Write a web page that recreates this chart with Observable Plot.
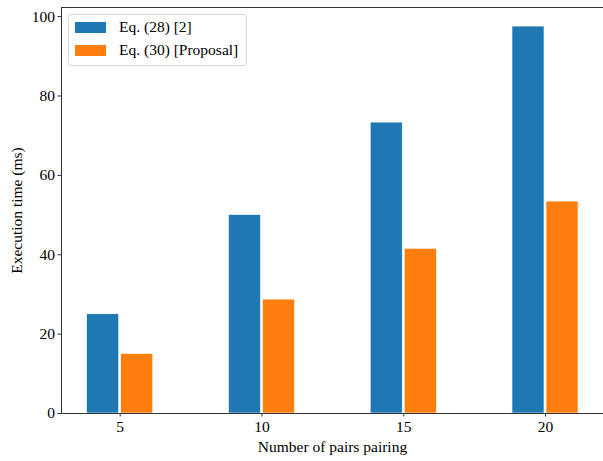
<!DOCTYPE html>
<html>
<head>
<meta charset="utf-8">
<script src="https://cdn.jsdelivr.net/npm/d3@7"></script>
<script src="https://cdn.jsdelivr.net/npm/@observablehq/plot@0.6"></script>
<style>
  html, body { margin: 0; padding: 0; background: #fff; overflow: hidden; }
  #wrap { position: relative; width: 603px; height: 461px; overflow: hidden; font-family: "Liberation Serif", "Times New Roman", serif; }
  #wrap svg { display: block; max-width: none; }
  #wrap svg text { font-family: "Liberation Serif", "Times New Roman", serif; }
  #legend { position: absolute; left: 68px; top: 14px; width: 179px; height: 52px; border: 1px solid #d9d9d9; border-radius: 3px; background: rgba(255,255,255,0.8); box-sizing: border-box; }
  .item { position: absolute; left: 6px; height: 16px; display: flex; align-items: center; font-size: 15.5px; line-height: 16px; color: #000; white-space: nowrap; }
  .sw { width: 31px; height: 11px; margin-right: 13px; flex: none; }
</style>
</head>
<body>
<div id="wrap"></div>
<script>
const pairs = [5, 10, 15, 20];
const series = ["Eq. (28) [2]", "Eq. (30) [Proposal]"];
const eq28 = [25.0, 50.0, 73.3, 97.5];
const eq30 = [15.0, 28.7, 41.5, 53.4];
const colors = ["#1f77b4", "#ff7f0e"];
const yTicks = [0, 20, 40, 60, 80, 100];
const barWidth = 1.2;

const rows = [];
pairs.forEach((p, i) => {
  rows.push({pairs: p, series: series[0], value: eq28[i], x1: p - barWidth, x2: p});
  rows.push({pairs: p, series: series[1], value: eq30[i], x1: p, x2: p + barWidth});
});

const xDomain = [2.93, 23.35];
const xEnd = 22.07; // right spine, just outside the picture
const yDomain = [0, 102.3];
const spine = "#333";

const chart = Plot.plot({
  width: 640,
  height: 461,
  marginLeft: 61,
  marginRight: 0,
  marginTop: 7,
  marginBottom: 48,
  style: {fontFamily: "'Liberation Serif', 'Times New Roman', serif", fontSize: "15.5px", color: "#000", background: "#fff"},
  x: {domain: xDomain},
  y: {domain: yDomain},
  color: {domain: series, range: colors},
  marks: [
    Plot.rect(rows, {x1: "x1", x2: "x2", y1: 0, y2: "value", fill: "series", insetLeft: 1, insetRight: 1, stroke: "#fff", strokeWidth: 0.6}),
    Plot.ruleX([xDomain[0]], {stroke: spine, strokeWidth: 1}),
    Plot.ruleY([yDomain[0]], {x1: xDomain[0], x2: xEnd, stroke: spine, strokeWidth: 1}),
    Plot.ruleY([yDomain[1]], {x1: xDomain[0], x2: xEnd, stroke: spine, strokeWidth: 1}),
    Plot.axisX(pairs, {tickSize: 3.5, tickPadding: 4, stroke: spine, fill: "#000", label: null, fontSize: 15.5}),
    Plot.axisY(yTicks, {tickSize: 3.5, tickPadding: 3, stroke: spine, fill: "#000", label: "Execution time (ms)", labelAnchor: "center", labelArrow: "none", labelOffset: 51, fontSize: 15.5})
  ]
});

const wrap = document.getElementById("wrap");
wrap.appendChild(chart);

const xTitle = document.createElement("div");
xTitle.textContent = "Number of pairs pairing";
Object.assign(xTitle.style, {position: "absolute", left: "61px", width: "543px", top: "438px", textAlign: "center", fontSize: "15.5px", lineHeight: "18px", color: "#000"});
wrap.appendChild(xTitle);

const legend = document.createElement("div");
legend.id = "legend";
series.forEach((s, i) => {
  const item = document.createElement("div");
  item.className = "item";
  item.style.top = (i === 0 ? 4 : 27) + "px";
  const sw = document.createElement("div");
  sw.className = "sw";
  sw.style.background = colors[i];
  const t = document.createElement("span");
  t.textContent = s;
  item.appendChild(sw);
  item.appendChild(t);
  legend.appendChild(item);
});
wrap.appendChild(legend);
</script>
</body>
</html>
